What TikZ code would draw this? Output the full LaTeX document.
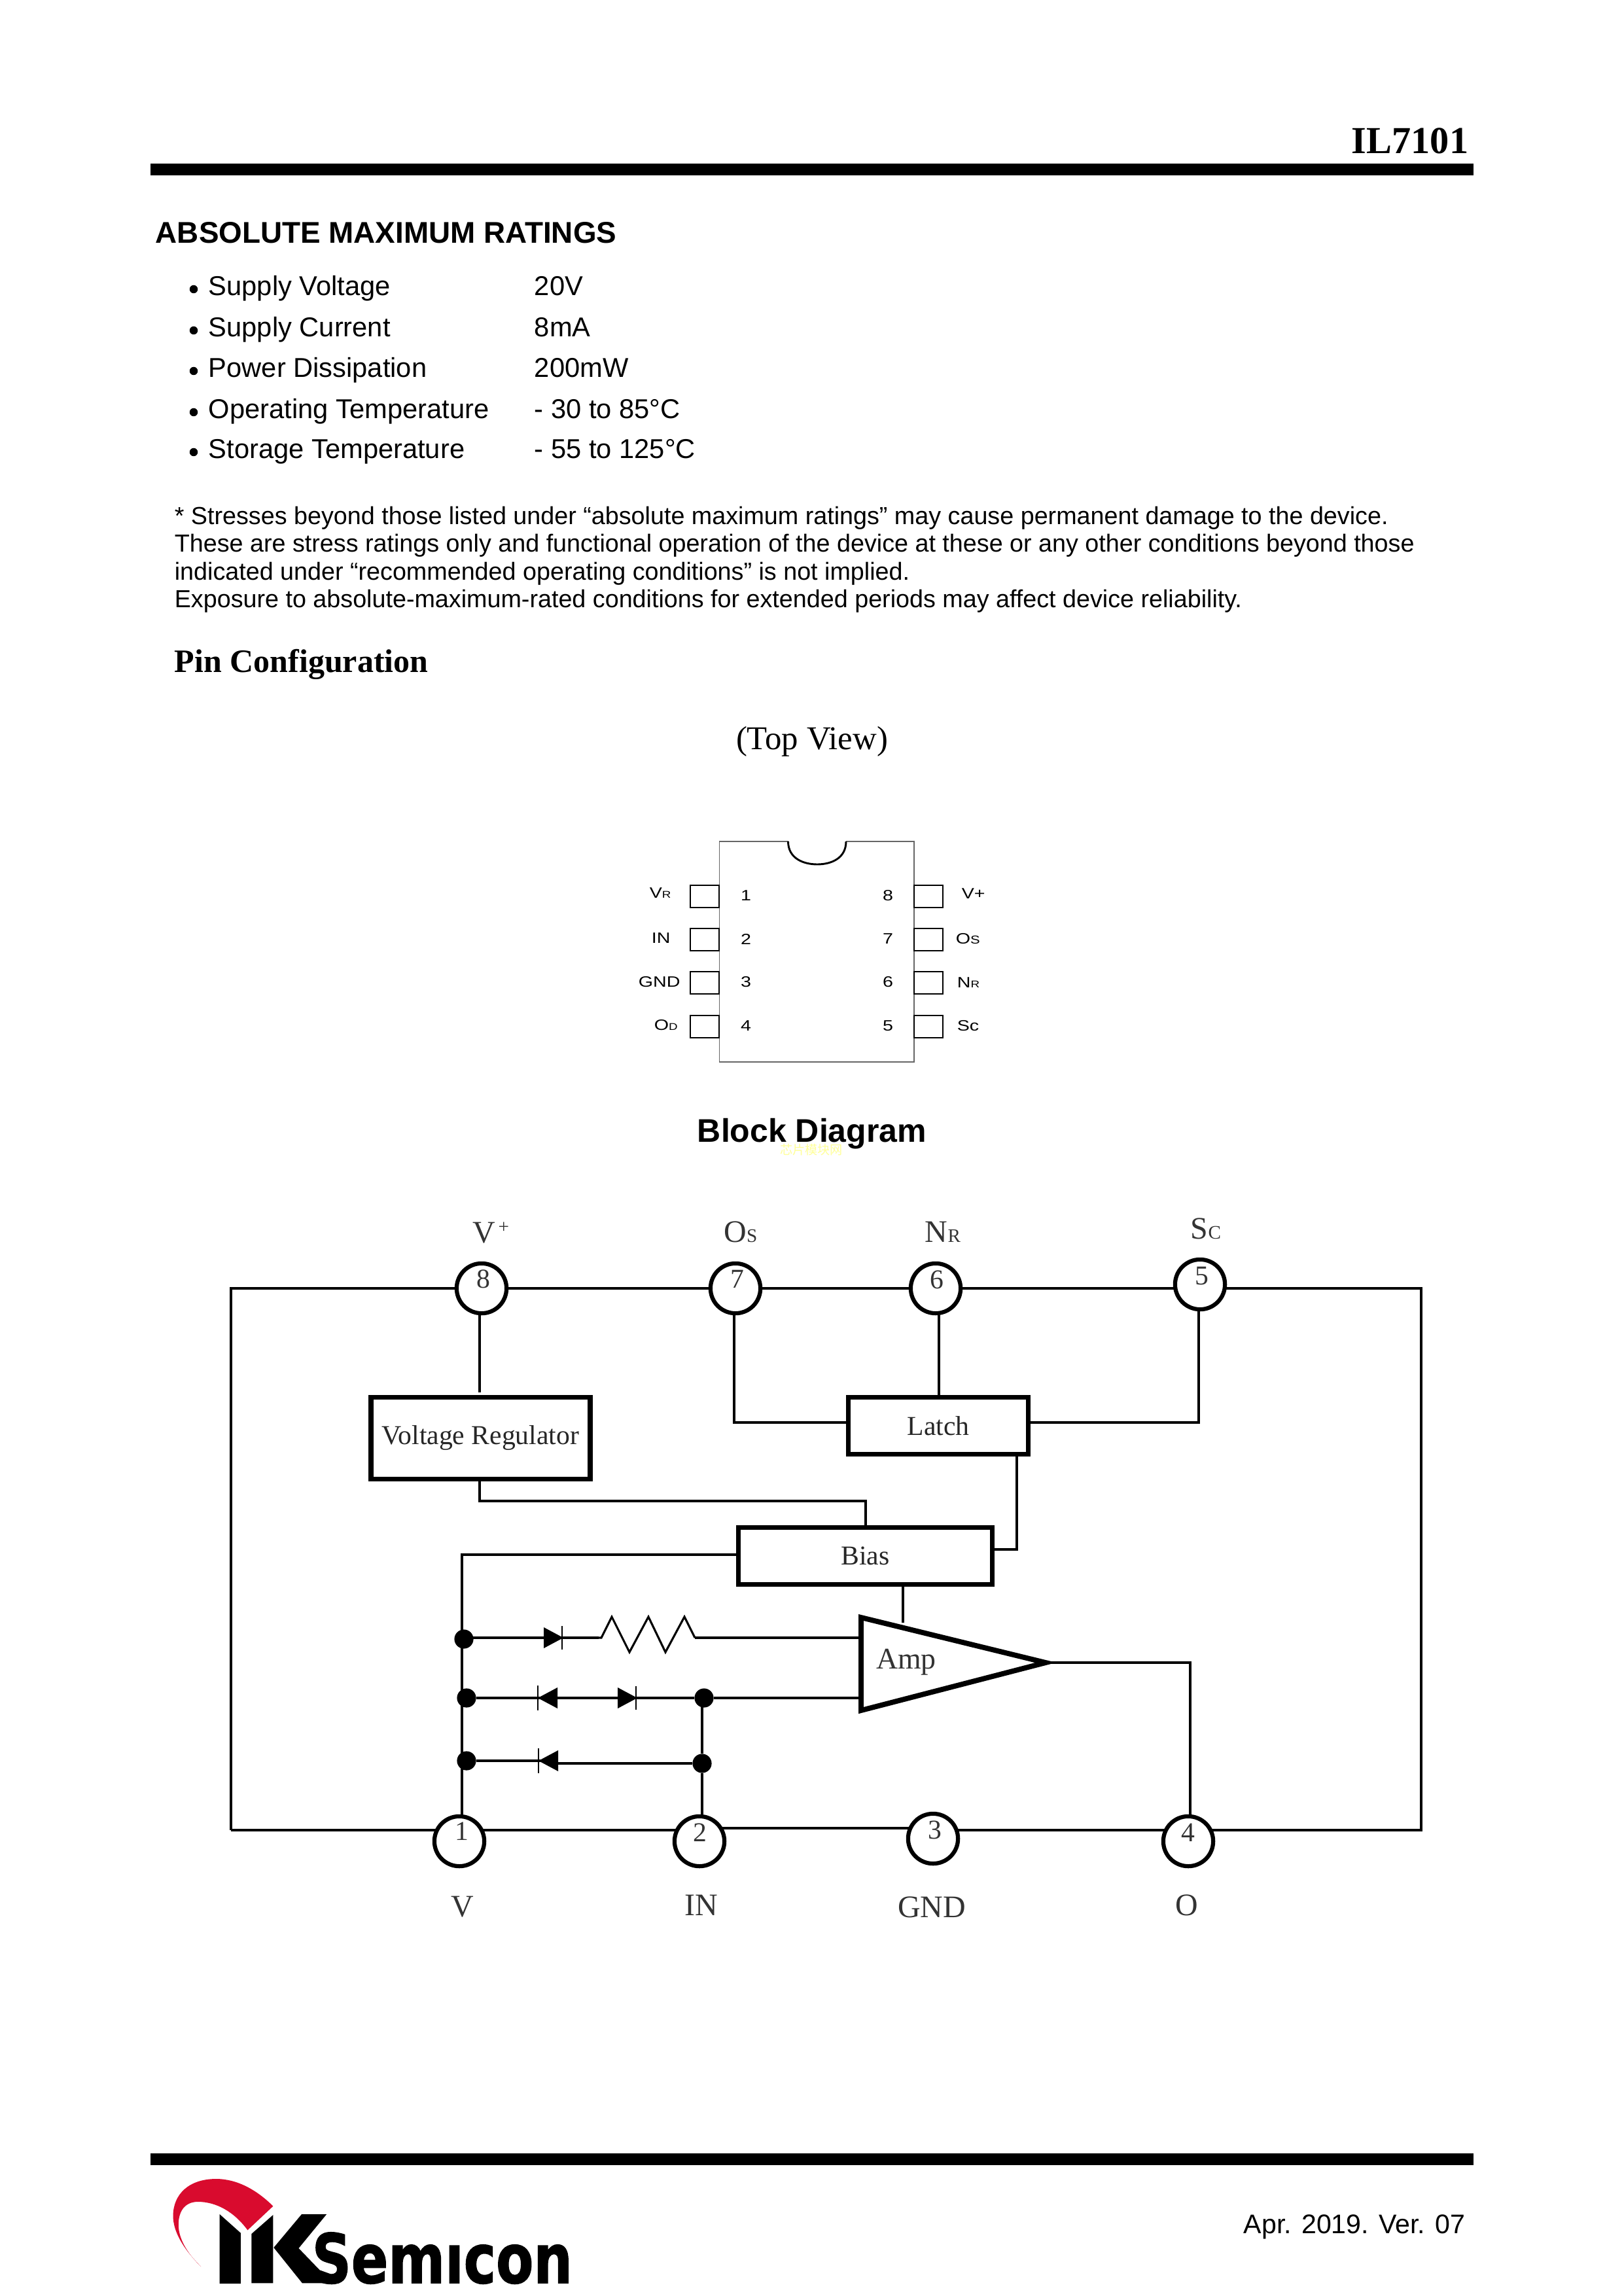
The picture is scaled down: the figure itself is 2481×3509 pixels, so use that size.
\documentclass[tikz,border=0pt]{standalone}
\usepackage{fontspec}
\setmainfont{Liberation Sans}
\newfontfamily\tms{Liberation Serif}
\newfontfamily\logofont[BoldFeatures={FakeBold=1.5}]{DejaVu Sans}
\newfontfamily\cjk{Noto Sans CJK SC}
\usetikzlibrary{backgrounds,calc}
\newcommand{\fsz}[1]{\fontsize{#1pt}{#1pt}\selectfont}
\newcommand{\ws}[1]{\scalebox{1.25}[1]{#1}}
\definecolor{logored}{HTML}{D90B2E}
\definecolor{wmark}{HTML}{FFFF99}
\tikzset{
  bar/.style={fill=black,draw=none},
  bodytxt/.style={anchor=base west,inner sep=0pt,font=\fsz{10}},
  parat/.style={anchor=base west,inner sep=0pt,font=\fsz{9.05}},
  bullet/.style={circle,fill=black,draw=none,inner sep=0pt,minimum size=3pt},
  chiptxt/.style={anchor=west,inner sep=0pt,font=\fsz{5.5}},
  chipnum/.style={inner sep=0pt,font=\fsz{5.5}},
  padbox/.style={draw=black,line width=0.45pt,fill=white,inner sep=0pt,minimum width=10.4pt,minimum height=8pt},
  wire/.style={draw=black,line width=0.85pt},
  pinc/.style={circle,draw=black,fill=white,line width=1.5pt,inner sep=0pt,minimum size=18.3pt},
  pintxt/.style={inner sep=0pt,font=\tms\fsz{10},text=black!80},
  sigtxt/.style={inner sep=0pt,font=\tms\fsz{11.5},text=black!80},
  blockbox/.style={draw=black,fill=white,line width=1.7pt,inner sep=0pt,font=\tms\fsz{10},text=black!85},
  dot/.style={circle,fill=black,draw=none,inner sep=0pt,minimum size=7pt},
  pics/diodeR/.style={code={\fill (-15,-16) -- (15,0) -- (-15,16) -- cycle; \draw[line width=0.55pt] (13,-18) -- (13,18);}},
  pics/diodeL/.style={code={\fill (15,-16) -- (-15,0) -- (15,16) -- cycle; \draw[line width=0.55pt] (-15,-19) -- (-15,19);}},
}
\begin{document}
\begin{tikzpicture}[x=0.24pt,y=-0.24pt]
\useasboundingbox (0,0) rectangle (2481,3509);
% header
\node[anchor=base east,inner sep=0pt,font=\tms\bfseries\fsz{14}] (title) at (2245,235) {IL7101};
\fill[bar] (230,250) rectangle (2252,268);
\fill[bar] (230,3291) rectangle (2252,3309);
\node[anchor=base west,inner sep=0pt,font=\bfseries\fsz{11}] (abs) at (237,372) {ABSOLUTE MAXIMUM RATINGS};
% ratings
\foreach \n/\yy/\a/\b in {1/452/Supply Voltage/20V,2/515/Supply Current/8mA,3/577/Power Dissipation/200mW,4/640/Operating Temperature/- 30 to 85°C,5/701/Storage Temperature/- 55 to 125°C}{
  \node[bullet] (bu\n) at (296,\yy-10) {};
  \node[bodytxt] (ra\n) at (318,\yy) {\a};
  \node[bodytxt] (rb\n) at (816,\yy) {\b};
}
\node[parat] (p1) at (266,801) {* Stresses beyond those listed under “absolute maximum ratings” may cause permanent damage to the device.};
\node[parat] (p2) at (266,844) {These are stress ratings only and functional operation of the device at these or any other conditions beyond those};
\node[parat] (p3) at (266,886) {indicated under “recommended operating conditions” is not implied.};
\node[parat] (p4) at (266,928) {Exposure to absolute-maximum-rated conditions for extended periods may affect device reliability.};
\node[anchor=base west,inner sep=0pt,font=\tms\bfseries\fsz{12}] (pinconf) at (266,1027) {Pin Configuration};
\node[anchor=base,inner sep=0pt,font=\tms\fsz{12.2}] (topview) at (1241,1145) {(Top View)};
% chip
\draw[black!60,line width=0.4pt] (1204.5,1286) -- (1099.5,1286) -- (1099.5,1623) -- (1397,1623) -- (1397,1286) -- (1293,1286);
\draw[black,line width=0.7pt] (1204.5,1286) .. controls (1204.5,1312) and (1228,1321) .. (1249,1321) .. controls (1270,1321) and (1293,1312) .. (1293,1286);
\foreach \n/\yy in {1/1370,2/1436,3/1502,4/1569}{
  \node[padbox] (pl\n) at (1077,\yy) {};
  \node[chipnum] (nl\n) at (1140,\yy-1) {\ws{\n}};
}
\foreach \n/\yy in {8/1370,7/1436,6/1502,5/1569}{
  \node[padbox] (pr\n) at (1419,\yy) {};
  \node[chipnum] (nr\n) at (1357,\yy-1) {\ws{\n}};
}
\node[chiptxt] (lvr) at (992,1365) {\ws{V{\fsz{3.6}R}}};
\node[chiptxt] (lin) at (995,1434) {\ws{IN}};
\node[chiptxt] (lgnd) at (975,1501) {\ws{GND}};
\node[chiptxt] (lod) at (999,1567) {\ws{O{\fsz{3.6}D}}};
\node[chiptxt] (rvp) at (1469,1366) {\ws{V+}};
\node[chiptxt] (ros) at (1460,1435) {\ws{O{\fsz{4.2}S}}};
\node[chiptxt] (rnr) at (1462,1502) {\ws{N{\fsz{3.6}R}}};
\node[chiptxt] (rsc) at (1462,1568) {\ws{Sc}};
% block diagram heading
\node[anchor=base,inner sep=0pt,font=\bfseries\fsz{12}] (blockh) at (1241,1745) {Block Diagram};
\node[inner sep=0pt,text=wmark,font=\cjk\fsz{4.6}] (wm) at (1240,1757) {芯片模块网};
% pins
\node[pinc] (p8) at (736,1969) {};
\node[pinc] (p7) at (1124,1969) {};
\node[pinc] (p6) at (1430,1969) {};
\node[pinc] (p5) at (1834,1963) {};
\node[pinc] (pa1) at (702,2814) {};
\node[pinc] (pa2) at (1069,2814) {};
\node[pinc] (pa3) at (1426,2810) {};
\node[pinc] (pa4) at (1816,2814) {};
\node[pintxt] (t8) at (739,1955) {8};
\node[pintxt] (t7) at (1127,1955) {7};
\node[pintxt] (t6) at (1432,1956) {6};
\node[pintxt] (t5) at (1837,1950) {5};
\node[pintxt] (t1) at (706,2799) {1};
\node[pintxt] (t2) at (1070,2801) {2};
\node[pintxt] (t3) at (1429,2797) {3};
\node[pintxt] (t4) at (1816,2801) {4};
\node[sigtxt] (svp) at (750,1884) {V{\fsz{7}\raisebox{3.5pt}{\,+}}};
\node[sigtxt] (sos) at (1132,1883) {O{\fsz{7}S}};
\node[sigtxt] (snr) at (1441,1883) {N{\fsz{7}R}};
\node[sigtxt] (ssc) at (1843,1878) {S{\fsz{7}C}};
\node[sigtxt] (sv) at (707,2914) {V};
\node[sigtxt] (sin) at (1072,2912) {IN};
\node[sigtxt] (sgnd) at (1424,2915) {GND};
\node[sigtxt] (so) at (1814,2912) {O};
% blocks
\node[blockbox,minimum width=80.4pt,minimum height=30.2pt] (vr) at (734.5,2198) {Voltage Regulator};
\node[blockbox,minimum width=66.1pt,minimum height=20.9pt] (latch) at (1434,2179) {Latch};
\node[blockbox,minimum width=93.1pt,minimum height=20.9pt] (bias) at (1322.5,2378) {Bias};
% amp
\coordinate (ampt) at (1316,2472);
\coordinate (ampb) at (1316,2614);
\coordinate (ampo) at (1598,2541);
\draw[black,fill=white,line width=1.9pt,line join=miter] (ampt) -- (ampo) -- (ampb) -- cycle;
\node[inner sep=0pt,font=\tms\fsz{11},text=black!80] (amp) at (1385,2540) {Amp};
% junction dots
\node[dot] (j1) at (709,2505) {};
\node[dot] (j2) at (713,2595) {};
\node[dot] (j3) at (713,2691) {};
\node[dot] (j4) at (1076,2595) {};
\node[dot] (j5) at (1073,2695) {};
% coordinates
\coordinate (tl) at (353,1969);
\coordinate (tr) at (2172,1969);
\coordinate (bl) at (353,2797);
\coordinate (br) at (2172,2797);
\coordinate (b23) at (1069,2794);
\coordinate (vrin) at (733,2128);
\coordinate (os) at (1122,2174);
\coordinate (sc) at (1832,2174);
\coordinate (nr) at (1435,2132);
\coordinate (vro) at (733,2255);
\coordinate (vrc) at (733,2294);
\coordinate (vrd) at (1323,2294);
\coordinate (lat) at (1554,2226);
\coordinate (latc) at (1554,2368);
\coordinate (bl2) at (706,2376);
\coordinate (aint) at (1316,2503);
\coordinate (ainb) at (1316,2595);
\coordinate (apwr) at (1380,2480);
\coordinate (aoc) at (1819,2541);
\coordinate (d3) at (838,2691);
\coordinate (rs) at (915,2503);
\coordinate (re) at (1062,2503);
\begin{pgfonlayer}{background}
  \draw[wire] (bl) -- (tl) -- (p8) -- (p7) -- (p6);
  \draw[wire] (p6) -- (p5 |- p6) -- (tr) -- (br) -- (pa3 |- br);
  \draw[wire] (bl) -- (pa1 |- bl) -- (pa2 |- bl);
  \draw[wire] (b23) -- (pa3 |- b23);
  \draw[wire] (p8.south -| vrin) -- (vrin);
  \draw[wire] (p7.south -| os) -- (os) -- (latch.west |- os);
  \draw[wire] (p5.south -| sc) -- (sc) -- (latch.east |- sc);
  \draw[wire] (p6.south -| nr) -- (nr);
  \draw[wire] (vro) -- (vrc) -- (vrd) -- (bias.north -| vrd);
  \draw[wire] (lat) -- (latc) -- (bias.east |- latc);
  \draw[wire] (bias.west |- bl2) -- (bl2) -- (bl2 |- pa1.north);
  \draw[wire] (bias.south -| apwr) -- (apwr);
  \draw[wire] (ampo) -- (aoc) -- (aoc |- pa4.north);
  \draw[wire] (j1 |- rs) -- (rs);
  \draw[wire] (re) -- (aint);
  \draw[wire] (j2) -- (j4) -- (ainb);
  \draw[wire] (j3) -- (d3);
  \draw[wire] (d3 |- j5) -- (j5);
  \draw[wire] (j5 |- j4) -- (j5) -- (j5 |- pa2.north);
\end{pgfonlayer}
\draw[black,line width=0.75pt,line join=miter] (rs) -- (919,2503) -- (935,2471) -- (962,2525) -- (991,2471) -- (1017,2525) -- (1046,2471) -- (re);
\pic at (846,2503) {diodeR};
\pic at (837,2595) {diodeL};
\pic at (959,2595) {diodeR};
\pic at (d3) {diodeL};
% footer
\node[anchor=base east,inner sep=0pt,font=\fsz{9.87}] (date) at (2240,3413) {Apr. 2019. Ver. 07};
% logo
\begin{scope}[shift={(220,3260)},x=0.1102pt,y=-0.08pt]
  \fill[logored] (190,612) .. controls (130,530) and (97,450) .. (97,380) .. controls (97,280) and (150,210) .. (240,210) .. controls (310,210) and (375,260) .. (430,335) -- (345,445) .. controls (300,360) and (240,315) .. (180,315) .. controls (135,315) and (115,360) .. (115,420) .. controls (115,490) and (150,560) .. (190,612) -- cycle;
  \fill[black] (252,372) -- (322,458) -- (322,690) -- (252,690) -- cycle;
  \fill[black] (358,462) -- (430,375) -- (430,688) -- (358,688) -- cycle;
  \fill[black] (432,525) -- (525,372) -- (608,372) -- (515,528) -- (585,628) -- (650,660) -- (650,688) -- (527,688) -- cycle;
\end{scope}
\node[anchor=base west,inner sep=0pt,font=\logofont\bfseries\fsz{25}] (logo) at (476,3489) {\scalebox{0.80}[1]{Semıcon}};
\end{tikzpicture}
\end{document}
